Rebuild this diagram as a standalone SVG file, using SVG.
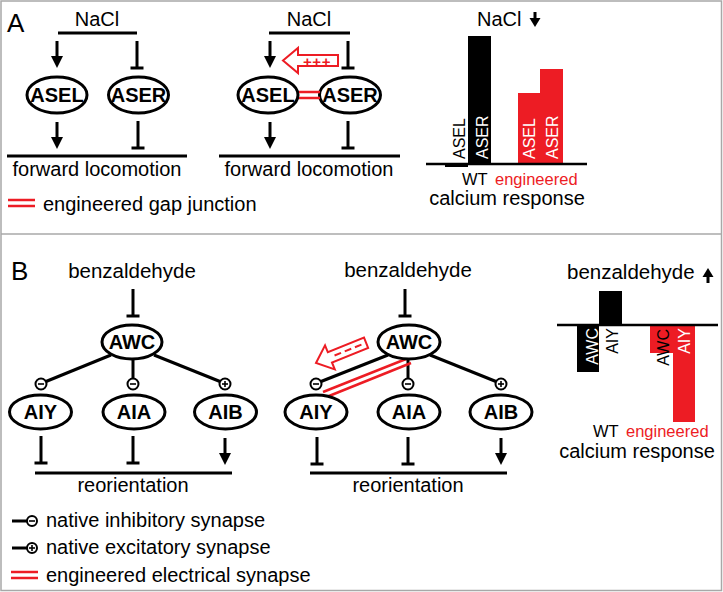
<svg xmlns="http://www.w3.org/2000/svg" xmlns:xlink="http://www.w3.org/1999/xlink" width="723" height="592" viewBox="0 0 723 592">
<style>
text{font-family:"Liberation Sans",Arial,Helvetica,sans-serif;fill:#000}
.lbl{font-size:20px}
.nd{font-size:20px;font-weight:bold;text-anchor:middle}
.rot{font-size:16px}
.sm{font-size:16.5px}
.red{fill:#ed1c24}
.wt{fill:#fff}
.ln{stroke:#000;stroke-width:3;fill:none}
.el{stroke:#000;stroke-width:3;fill:#fff}
.rl{stroke:#ed1c24;stroke-width:2.5;fill:none}
.ha{stroke:#ed1c24;stroke-width:2;fill:#fff}
.syn{stroke:#000;stroke-width:2;fill:#fff}
.sg{stroke:#000;stroke-width:1.6}
.frame{stroke:#a8a8a8;stroke-width:1.5;fill:none}
</style>
<defs>
<g id="arrDown"><line x1="0" y1="-27" x2="0" y2="-9" stroke="#000" stroke-width="3"/><polygon points="-6,-12 6,-12 0,0" fill="#000"/></g>
<g id="tDown"><line x1="0" y1="-27" x2="0" y2="0" stroke="#000" stroke-width="3"/><line x1="-6.5" y1="0" x2="6.5" y2="0" stroke="#000" stroke-width="3"/></g>
</defs>

<g id="frame">
<rect class="frame" x="1" y="1" width="720.5" height="589.5"/>
<line class="frame" x1="1" y1="234" x2="721.5" y2="234"/>
</g>

<!-- Panel A -->
<text x="7" y="32" style="font-size:26px">A</text>

<g id="A1">
<text class="lbl" x="97" y="25.5" text-anchor="middle">NaCl</text>
<g id="A1-ASEL"><ellipse class="el" cx="57" cy="95" rx="30" ry="18"/><text class="nd" x="57" y="102">ASEL</text></g>
<g id="A1-ASER"><ellipse class="el" cx="138.5" cy="95" rx="30" ry="18"/><text class="nd" x="138.5" y="102">ASER</text></g>
<g id="A1-conn">
<line class="ln" x1="58" y1="33" x2="137" y2="33"/>
<use xlink:href="#arrDown" x="57" y="68"/>
<use xlink:href="#tDown" x="137" y="68"/>
<use xlink:href="#arrDown" x="57" y="149"/>
<use xlink:href="#tDown" x="138" y="148"/>
<line class="ln" x1="7" y1="156" x2="187" y2="156"/>
</g>
<text class="lbl" x="97" y="176" text-anchor="middle">forward locomotion</text>
</g>

<g id="A-legend">
<line class="rl" x1="8" y1="200" x2="35" y2="200"/>
<line class="rl" x1="8" y1="206" x2="35" y2="206"/>
<text class="lbl" x="43" y="211">engineered gap junction</text>
</g>

<g id="A2">
<text class="lbl" x="309" y="25.5" text-anchor="middle">NaCl</text>
<g id="A2-ASEL"><ellipse class="el" cx="268" cy="95" rx="30" ry="18"/><text class="nd" x="268" y="102">ASEL</text></g>
<g id="A2-ASER"><ellipse class="el" cx="350" cy="95" rx="30.5" ry="18"/><text class="nd" x="350" y="102">ASER</text></g>
<g id="A2-conn">
<line class="ln" x1="269" y1="33" x2="350" y2="33"/>
<use xlink:href="#arrDown" x="270" y="68"/>
<use xlink:href="#tDown" x="348" y="68"/>
<use xlink:href="#arrDown" x="270" y="149"/>
<use xlink:href="#tDown" x="348" y="148"/>
<line class="ln" x1="219" y1="156" x2="400" y2="156"/>
<line class="rl" x1="299" y1="92" x2="320" y2="92"/>
<line class="rl" x1="299" y1="98" x2="320" y2="98"/>
<path class="ha" d="M283,60.5 L298,48 L298,55 L338,55 L338,66 L298,66 L298,73 Z"/>
<text x="317" y="66.5" text-anchor="middle" class="red" style="font-size:15px;font-weight:bold;letter-spacing:0.5px">+++</text>
</g>
<text class="lbl" x="309" y="176" text-anchor="middle">forward locomotion</text>
</g>

<g id="A3">
<text class="lbl" x="477" y="25.5">NaCl</text>
<line x1="535" y1="12" x2="535" y2="20" stroke="#000" stroke-width="3"/>
<polygon points="529.5,18 540.5,18 535,27" fill="#000"/>
<rect x="468" y="36" width="23" height="128" fill="#000"/>
<rect x="445" y="163" width="23" height="4" fill="#000"/>
<rect x="518" y="93" width="22.5" height="71" fill="#ed1c24"/>
<rect x="540" y="69" width="23" height="95" fill="#ed1c24"/>
<line x1="426" y1="164" x2="587" y2="164" stroke="#000" stroke-width="2.5"/>
<text class="rot" transform="translate(465,159) rotate(-90)">ASEL</text>
<text class="rot wt" transform="translate(488,159) rotate(-90)">ASER</text>
<text class="rot wt" transform="translate(534.5,159) rotate(-90)">ASEL</text>
<text class="rot wt" transform="translate(558,159) rotate(-90)">ASER</text>
<text class="sm" x="462" y="184.5">WT</text>
<text class="sm red" x="495" y="184.5">engineered</text>
<text class="lbl" x="507" y="204.5" text-anchor="middle">calcium response</text>
</g>

<!-- Panel B -->
<text x="11" y="280" style="font-size:26px">B</text>

<g id="B1">
<text class="lbl" x="132" y="278" text-anchor="middle" style="font-size:20.5px">benzaldehyde</text>
<g id="B1-conn">
<use xlink:href="#tDown" x="133" y="316"/>
<line class="ln" x1="111" y1="355" x2="46" y2="381.5"/>
<line class="ln" x1="133" y1="359" x2="133" y2="378.5"/>
<line class="ln" x1="154" y1="355" x2="220" y2="381.5"/>
<use xlink:href="#tDown" x="41" y="463"/>
<use xlink:href="#tDown" x="133" y="463"/>
<use xlink:href="#arrDown" x="225" y="465"/>
<line class="ln" x1="35" y1="473" x2="232" y2="473"/>
</g>
<g id="B1-AWC"><ellipse class="el" cx="132" cy="342" rx="30" ry="17"/><text class="nd" x="132" y="349">AWC</text></g>
<g id="B1-AIY"><ellipse class="el" cx="40.5" cy="412" rx="31" ry="17"/><text class="nd" x="40.5" y="419">AIY</text></g>
<g id="B1-AIA"><ellipse class="el" cx="134" cy="412" rx="31" ry="17"/><text class="nd" x="134" y="419">AIA</text></g>
<g id="B1-AIB"><ellipse class="el" cx="225.5" cy="412" rx="31" ry="17"/><text class="nd" x="225.5" y="419">AIB</text></g>
<g id="B1-syn">
<circle class="syn" cx="41" cy="384" r="5.5"/><line class="sg" x1="38" y1="384" x2="44" y2="384"/>
<circle class="syn" cx="133" cy="384" r="5.5"/><line class="sg" x1="130" y1="384" x2="136" y2="384"/>
<circle class="syn" cx="225" cy="384" r="5.5"/><line class="sg" x1="222" y1="384" x2="228" y2="384"/><line class="sg" x1="225" y1="381" x2="225" y2="387"/>
</g>
<text class="lbl" x="133" y="492" text-anchor="middle">reorientation</text>
</g>

<g id="B2">
<text class="lbl" x="408" y="277" text-anchor="middle" style="font-size:20.5px">benzaldehyde</text>
<g id="B2-conn">
<use xlink:href="#tDown" x="405" y="316"/>
<line class="ln" x1="388" y1="355" x2="321" y2="381.5"/>
<line class="ln" x1="408" y1="359" x2="408" y2="378.5"/>
<line class="ln" x1="430" y1="355" x2="496" y2="381.5"/>
<line class="rl" x1="406" y1="359" x2="323" y2="392"/>
<line class="rl" x1="411" y1="363" x2="329" y2="396"/>
<use xlink:href="#tDown" x="317" y="464"/>
<use xlink:href="#tDown" x="408" y="464"/>
<use xlink:href="#arrDown" x="501" y="465"/>
<line class="ln" x1="310" y1="473" x2="507" y2="473"/>
<g transform="translate(316,363) rotate(-22)">
<path class="ha" d="M0,0 L15,-13 L15,-5.5 L54,-5.5 L54,5.5 L15,5.5 L15,13 Z"/>
<line x1="20" y1="0" x2="50" y2="0" stroke="#ed1c24" stroke-width="2" stroke-dasharray="7,4"/>
</g>
</g>
<g id="B2-AWC"><ellipse class="el" cx="409" cy="342" rx="31" ry="17"/><text class="nd" x="409" y="349">AWC</text></g>
<g id="B2-AIY"><ellipse class="el" cx="316" cy="412" rx="31" ry="17"/><text class="nd" x="316" y="419">AIY</text></g>
<g id="B2-AIA"><ellipse class="el" cx="409" cy="412" rx="31" ry="17"/><text class="nd" x="409" y="419">AIA</text></g>
<g id="B2-AIB"><ellipse class="el" cx="501" cy="412" rx="31" ry="17"/><text class="nd" x="501" y="419">AIB</text></g>
<g id="B2-syn">
<circle class="syn" cx="316" cy="384" r="5.5"/><line class="sg" x1="313" y1="384" x2="319" y2="384"/>
<circle class="syn" cx="408" cy="384" r="5.5"/><line class="sg" x1="405" y1="384" x2="411" y2="384"/>
<circle class="syn" cx="501" cy="384" r="5.5"/><line class="sg" x1="498" y1="384" x2="504" y2="384"/><line class="sg" x1="501" y1="381" x2="501" y2="387"/>
</g>
<text class="lbl" x="408" y="492" text-anchor="middle">reorientation</text>
</g>

<g id="B3">
<text class="lbl" x="567" y="279" style="font-size:20.5px">benzaldehyde</text>
<line x1="708" y1="274" x2="708" y2="283" stroke="#000" stroke-width="3"/>
<polygon points="702.5,277 713.5,277 708,268" fill="#000"/>
<rect x="577" y="325" width="22" height="47" fill="#000"/>
<rect x="599" y="291" width="23" height="34" fill="#000"/>
<rect x="650" y="325" width="23" height="28" fill="#ed1c24"/>
<rect x="673" y="325" width="22" height="97" fill="#ed1c24"/>
<line x1="557" y1="325" x2="718" y2="325" stroke="#000" stroke-width="2.5"/>
<text class="rot wt" text-anchor="end" transform="translate(597.5,328) rotate(-90)">AWC</text>
<text class="rot" text-anchor="end" transform="translate(618,328) rotate(-90)">AIY</text>
<text class="rot" text-anchor="end" transform="translate(669,329) rotate(-90)">AWC</text>
<text class="rot wt" text-anchor="end" transform="translate(690,328) rotate(-90)">AIY</text>
<text class="sm" x="593" y="437">WT</text>
<text class="sm red" x="626" y="437">engineered</text>
<text class="lbl" x="637" y="458" text-anchor="middle">calcium response</text>
</g>

<g id="B-legend">
<line x1="12" y1="521" x2="27" y2="521" stroke="#000" stroke-width="3"/>
<circle class="syn" cx="32" cy="521" r="5"/><line class="sg" x1="29" y1="521" x2="35" y2="521"/>
<text class="lbl" x="46" y="527">native inhibitory synapse</text>
<line x1="12" y1="548" x2="27" y2="548" stroke="#000" stroke-width="3"/>
<circle class="syn" cx="32" cy="548" r="5"/><line class="sg" x1="29" y1="548" x2="35" y2="548"/><line class="sg" x1="32" y1="545" x2="32" y2="551"/>
<line class="rl" x1="11" y1="572" x2="38" y2="572"/>
<line class="rl" x1="11" y1="578" x2="38" y2="578"/>
<text class="lbl" x="46" y="554">native excitatory synapse</text>
<text class="lbl" x="46" y="582">engineered electrical synapse</text>
</g>
</svg>
